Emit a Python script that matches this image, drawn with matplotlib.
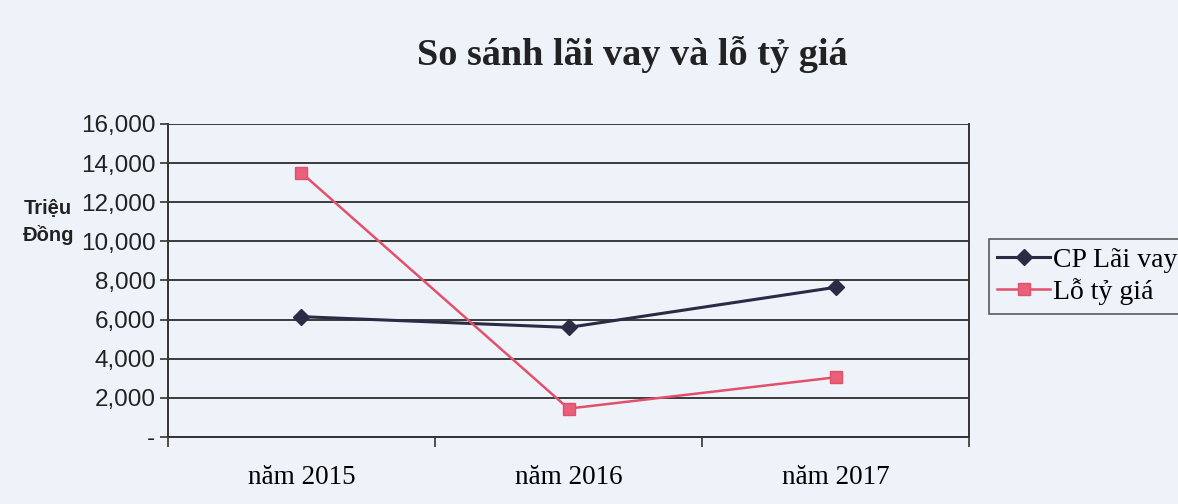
import matplotlib
matplotlib.use("Agg")
import matplotlib.pyplot as plt
from matplotlib.ticker import FixedLocator, FuncFormatter
import numpy as np

categories = ["năm 2015", "năm 2016", "năm 2017"]
lai_vay = [6150, 5600, 7650]
lo_ty_gia = [13500, 1450, 3050]
series_names = ["CP Lãi vay", "Lỗ tỷ giá"]
y_ticks = [0, 2000, 4000, 6000, 8000, 10000, 12000, 14000, 16000]

bg = "#eef3f9"
fig = plt.figure(figsize=(11.78, 5.04), dpi=100, facecolor=bg)
ax = fig.add_axes([0.1426, 0.133, 0.680, 0.621])
ax.set_facecolor(bg)

x = np.arange(len(categories))
l1, = ax.plot(x, lai_vay, color="#2b2b45", lw=2.2, marker="D", ms=8,
              markerfacecolor="#2b2b45", label=series_names[0])
l2, = ax.plot(x, lo_ty_gia, color="#e2506c", lw=1.8, marker="s", ms=8,
              markerfacecolor="#e8607a", label=series_names[1])

ax.set_xlim(-0.5, 2.5)
ax.set_ylim(0, 16000)
ax.yaxis.set_major_locator(FixedLocator(y_ticks))
ax.yaxis.set_major_formatter(FuncFormatter(lambda v, p: "-" if v == 0 else f"{int(v):,}"))
ax.yaxis.grid(True, color="#3a3a3a", lw=1.4)
ax.set_axisbelow(True)

ax.set_xticks([-0.5, 0.5, 1.5, 2.5])
ax.set_xticklabels([])
ax.set_xticks(x, minor=True)
ax.set_xticklabels(categories, minor=True, family="Liberation Serif", fontsize=19.5)
ax.tick_params(axis="x", which="minor", length=0, pad=20)
ax.tick_params(axis="x", which="major", length=7, width=1.2, color="#333333", direction="out")
ax.tick_params(axis="y", length=6, width=1.2, color="#333333", labelsize=17.5, pad=3)
for lab in ax.get_yticklabels():
    lab.set_family("Liberation Sans")
    lab.set_color("#222222")

for s in ["top", "right"]:
    ax.spines[s].set_visible(False)
ax.spines["left"].set_color("#333333")
ax.spines["left"].set_linewidth(1.4)
ax.spines["bottom"].set_color("#333333")
ax.spines["bottom"].set_linewidth(1.4)
ax.plot([1, 1], [0, 1], transform=ax.transAxes, color="#333333", lw=1.4, clip_on=False)

fig.text(0.5365, 0.871, "So sánh lãi vay và lỗ tỷ giá", ha="center", va="baseline",
         family="Liberation Serif", fontsize=27.5, fontweight="bold", color="#222222")
fig.text(0.041, 0.559, "Triệu\nĐồng", ha="center", va="center", family="Liberation Sans",
         fontsize=14.5, fontweight="bold", color="#222222", linespacing=1.45)

leg = fig.legend(handles=[l1, l2], loc="upper left", bbox_to_anchor=(0.8396, 0.526),
                 borderaxespad=0,
                 prop={"family": "Liberation Serif", "size": 20}, frameon=True,
                 fancybox=False, edgecolor="#333333", handlelength=1.9,
                 borderpad=0.3, labelspacing=0.2, handletextpad=0.1)
leg.get_frame().set_facecolor(bg)
leg.get_frame().set_linewidth(1.2)

fig.savefig("out.png", dpi=100, facecolor=bg)
